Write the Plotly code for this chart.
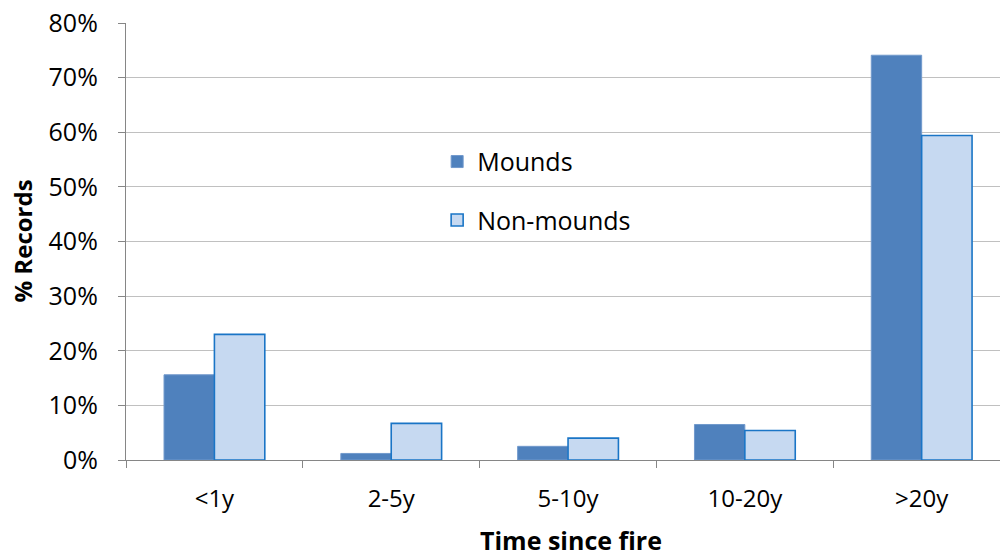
import plotly.graph_objects as go

# Share of records by time since the last fire
categories = ["<1y", "2-5y", "5-10y", "10-20y", ">20y"]
mounds = [15.6, 1.2, 2.5, 6.5, 74.1]
non_mounds = [23.0, 6.7, 4.0, 5.4, 59.4]
y_ticks = [0, 10, 20, 30, 40, 50, 60, 70, 80]
y_tick_labels = [f"{v}%" for v in y_ticks]

FONT = "Open Sans"

fig = go.Figure()
fig.add_trace(go.Bar(
    name="Mounds", x=categories, y=mounds,
    marker=dict(color="#4F81BD", line=dict(color="#7199CC", width=1)),
    legendgroup="a",
))
fig.add_trace(go.Bar(
    name="Non-mounds", x=categories, y=non_mounds,
    marker=dict(color="#C6D9F1", line=dict(color="#1A75C6", width=1.6)),
    legendgroup="b",
))

fig.update_layout(
    width=1000, height=556,
    margin=dict(l=126, r=0, t=23, b=96),
    paper_bgcolor="white", plot_bgcolor="white",
    barmode="group", bargap=0.43, bargroupgap=0,
    font=dict(family=FONT, size=24, color="#000000"),
    showlegend=True,
    legend=dict(
        x=0.356, y=0.735, xanchor="left", yanchor="top",
        bgcolor="rgba(0,0,0,0)", font=dict(family=FONT, size=25),
        traceorder="grouped", tracegroupgap=23,
        itemwidth=30,
    ),
    xaxis=dict(
        type="category", range=[-0.5, 4.443],
        showline=True, linecolor="#868686", linewidth=1.3,
        ticks="outside", tickson="boundaries", ticklen=7, tickcolor="#868686",
        tickwidth=1.3, ticklabelstandoff=17,
        tickfont=dict(family=FONT, size=24),
        showgrid=False, zeroline=False,
    ),
    yaxis=dict(
        range=[0, 80], tickvals=y_ticks, ticktext=y_tick_labels,
        showline=True, linecolor="#868686", linewidth=1.3,
        ticks="outside", ticklen=7, tickcolor="#868686", tickwidth=1.3,
        ticklabelstandoff=15, tickfont=dict(family=FONT, size=25),
        showgrid=True, gridcolor="#C0C0C0", gridwidth=1.3, zeroline=False,
    ),
    annotations=[
        dict(text="<b>% Records</b>", textangle=-90, xref="paper", yref="paper",
             x=(22 - 126) / 874, y=0.5, xanchor="center", yanchor="middle",
             showarrow=False, font=dict(family=FONT, size=24)),
        dict(text="<b>Time since fire</b>", xref="paper", yref="paper",
             x=(571 - 126) / 874, y=-0.184, xanchor="center", yanchor="middle",
             showarrow=False, font=dict(family=FONT, size=25)),
    ],
)

fig.write_html("out.html")
